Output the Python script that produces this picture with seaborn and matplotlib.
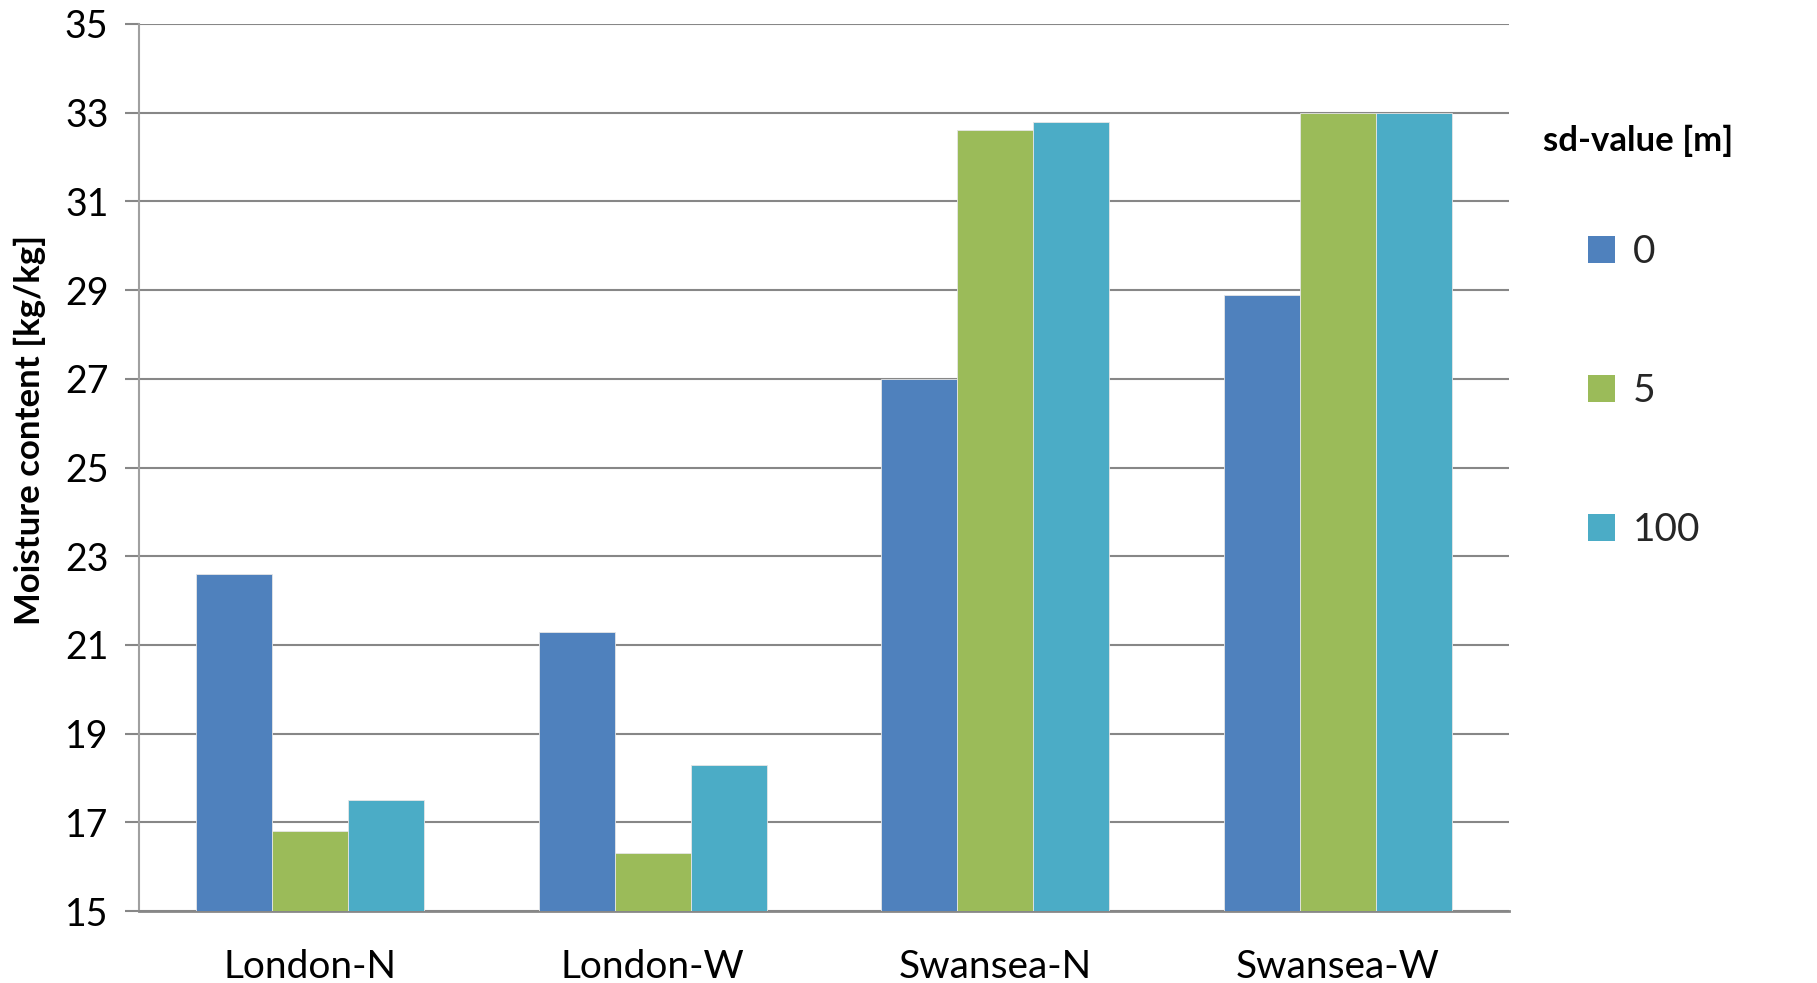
import matplotlib
matplotlib.use("Agg")
import matplotlib.pyplot as plt
import seaborn as sns
import pandas as pd

# Moisture content per location / orientation and sd-value
locations = ["London-N", "London-W", "Swansea-N", "Swansea-W"]
sd_values = ["0", "5", "100"]
moisture_sd0 = [22.6, 21.3, 27.0, 28.9]
moisture_sd5 = [16.8, 16.3, 32.6, 33.0]
moisture_sd100 = [17.5, 18.3, 32.8, 33.0]
y_ticks = [15, 17, 19, 21, 23, 25, 27, 29, 31, 33, 35]

colors = ["#4F81BD", "#9BBB59", "#4BACC6"]

rows = []
for sd, vals in zip(sd_values, [moisture_sd0, moisture_sd5, moisture_sd100]):
    for loc, v in zip(locations, vals):
        rows.append({"location": loc, "sd": sd, "moisture": v})
df = pd.DataFrame(rows)

sns.set_theme(style="white")
plt.rcParams["font.family"] = ["Lato", "DejaVu Sans"]

fig = plt.figure(figsize=(18.17, 9.83), dpi=100)
ax = fig.add_axes([0.0765, 0.0732, 0.7540, 0.9024])

sns.barplot(data=df, x="location", y="moisture", hue="sd", order=locations,
            hue_order=sd_values, palette=colors, width=0.665, saturation=1,
            edgecolor="#e6e6e6", linewidth=0.6, ax=ax, zorder=3)

ax.set_ylim(15, 35)
ax.set_xlim(-0.5, 3.5)
ax.set_yticks(y_ticks)
ax.set_yticklabels([str(t) for t in y_ticks])
ax.yaxis.grid(True, color="#878787", linewidth=1.5, zorder=0)
ax.set_axisbelow(True)

for side in ["top", "right"]:
    ax.spines[side].set_visible(False)
ax.spines["left"].set_color("#a0a0a0")
ax.spines["left"].set_linewidth(1.5)
ax.spines["bottom"].set_color("#878787")
ax.spines["bottom"].set_linewidth(2.0)

ax.tick_params(axis="y", which="major", left=True, length=10, width=1.5,
               color="#878787", labelsize=27, pad=12, labelcolor="black")
ax.tick_params(axis="x", bottom=False, labelsize=28, pad=21, labelcolor="black")

ax.set_xlabel("")
ax.set_ylabel("Moisture content [kg/kg]", fontsize=25, fontweight="bold",
              color="black", va="center")
ax.yaxis.set_label_coords(-0.080, 0.542)

# Legend: title placed on its own, entries indented below it
handles, labels = ax.get_legend_handles_labels()
fig.text(0.849, 0.857, "sd-value [m]", fontsize=25, fontweight="bold",
         ha="left", va="center", color="black")
leg = ax.legend(handles, labels, loc="upper left",
                bbox_to_anchor=(0.874, 0.762), bbox_transform=fig.transFigure,
                frameon=False, fontsize=28,
                handlelength=0.7, handleheight=0.7, handletextpad=0.45,
                labelspacing=2.65, borderaxespad=0, borderpad=0)
for h in leg.legend_handles:
    h.set_edgecolor("none")

fig.savefig("out.png", dpi=100)
